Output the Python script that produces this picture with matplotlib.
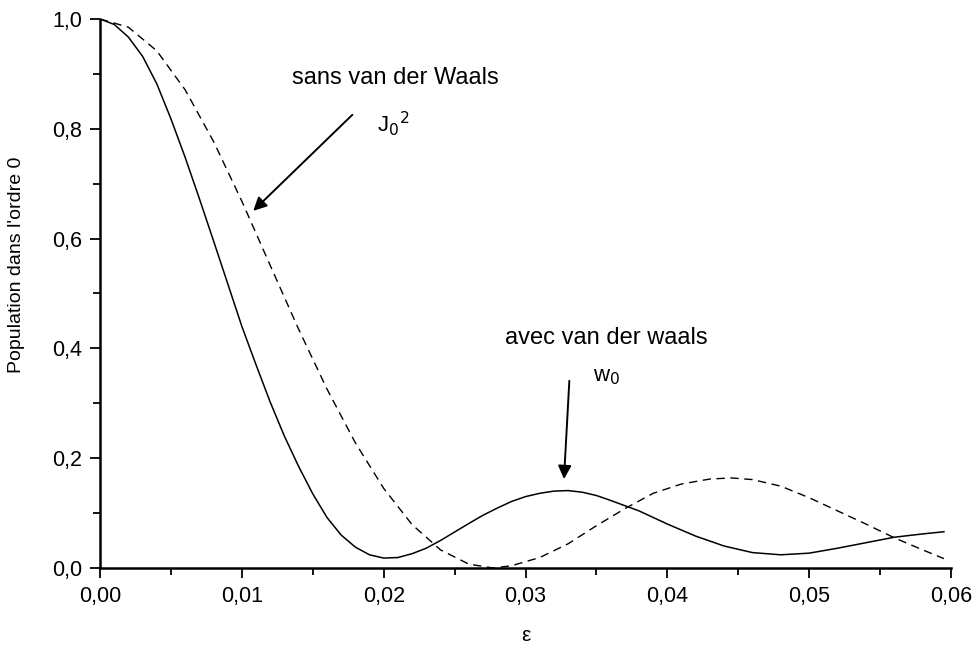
import matplotlib
matplotlib.use("Agg")
import matplotlib.pyplot as plt
from matplotlib.ticker import MultipleLocator, FuncFormatter

plt.rcParams["font.family"] = ["Liberation Sans", "DejaVu Sans"]

# avec van der Waals (w0)
eps_w0 = [0.0, 0.001, 0.002, 0.003, 0.004, 0.005, 0.006, 0.007, 0.008, 0.009,
          0.010, 0.011, 0.012, 0.013, 0.014, 0.015, 0.016, 0.017, 0.018, 0.019,
          0.020, 0.021, 0.022, 0.023, 0.024, 0.026, 0.027, 0.028, 0.029, 0.030,
          0.031, 0.032, 0.033, 0.034, 0.035, 0.036, 0.038, 0.040, 0.042, 0.044,
          0.046, 0.048, 0.050, 0.052, 0.054, 0.056, 0.058, 0.0595]
pop_w0 = [1.0, 0.990, 0.967, 0.932, 0.882, 0.818, 0.748, 0.673, 0.596, 0.518,
          0.440, 0.370, 0.302, 0.240, 0.185, 0.135, 0.092, 0.060, 0.038, 0.024,
          0.018, 0.019, 0.026, 0.036, 0.050, 0.081, 0.096, 0.109, 0.121, 0.130,
          0.136, 0.140, 0.141, 0.138, 0.132, 0.123, 0.104, 0.080, 0.058, 0.040,
          0.028, 0.024, 0.027, 0.036, 0.046, 0.056, 0.062, 0.066]

# sans van der Waals (J0^2)
eps_j0 = [0.0, 0.002, 0.004, 0.006, 0.008, 0.010, 0.012, 0.014, 0.016, 0.018,
          0.020, 0.022, 0.024, 0.026, 0.0277, 0.029, 0.031, 0.033, 0.035, 0.037,
          0.039, 0.041, 0.043, 0.0445, 0.046, 0.048, 0.050, 0.052, 0.054, 0.056,
          0.058, 0.0595]
pop_j0 = [1.0, 0.985, 0.942, 0.871, 0.777, 0.668, 0.551, 0.435, 0.326, 0.228,
          0.145, 0.079, 0.033, 0.007, 0.0, 0.004, 0.019, 0.044, 0.077, 0.108,
          0.136, 0.153, 0.162, 0.164, 0.161, 0.149, 0.128, 0.104, 0.080, 0.055,
          0.033, 0.017]

fig = plt.figure(figsize=(9.77, 6.48), dpi=100)
ax = fig.add_axes([0.1024, 0.1235, 0.8710, 0.8472])

ax.plot(eps_w0, pop_w0, color="k", lw=1.1)
ax.plot(eps_j0, pop_j0, color="k", lw=1.0, dashes=(6, 4))

ax.set_xlim(0, 0.06)
ax.set_ylim(0, 1.0)
for s in ("top", "right"):
    ax.spines[s].set_visible(False)
for s in ("left", "bottom"):
    ax.spines[s].set_linewidth(1.8)

ax.xaxis.set_major_locator(MultipleLocator(0.01))
ax.xaxis.set_minor_locator(MultipleLocator(0.005))
ax.yaxis.set_major_locator(MultipleLocator(0.2))
ax.yaxis.set_minor_locator(MultipleLocator(0.1))
ax.xaxis.set_major_formatter(FuncFormatter(lambda v, p: ("%.2f" % v).replace(".", ",")))
ax.yaxis.set_major_formatter(FuncFormatter(lambda v, p: ("%.1f" % v).replace(".", ",")))
ax.tick_params(which="major", direction="out", length=7, width=1.3, labelsize=15.5, pad=6)
ax.tick_params(which="minor", direction="out", length=5, width=1.3)

ax.set_xlabel("ε", fontsize=15, labelpad=14)
ax.set_ylabel("Population dans l'ordre 0", fontsize=14)
ax.yaxis.set_label_coords(-0.088, 0.552)

ax.text(0.0208, 0.893, "sans van der Waals", fontsize=17, ha="center", va="center")
ax.text(0.0207, 0.81, "J$_0$$^2$", fontsize=16, ha="center", va="center")
ax.annotate("", xy=(0.01066, 0.647), xytext=(0.01793, 0.829),
            arrowprops=dict(arrowstyle="-|>", color="k", lw=1.4, mutation_scale=20))

ax.text(0.0357, 0.419, "avec van der waals", fontsize=17, ha="center", va="center")
ax.text(0.0357, 0.348, "w$_0$", fontsize=16, ha="center", va="center")
ax.annotate("", xy=(0.0327, 0.157), xytext=(0.0331, 0.346),
            arrowprops=dict(arrowstyle="-|>", color="k", lw=1.4, mutation_scale=20))

fig.savefig("out.png", dpi=100)
